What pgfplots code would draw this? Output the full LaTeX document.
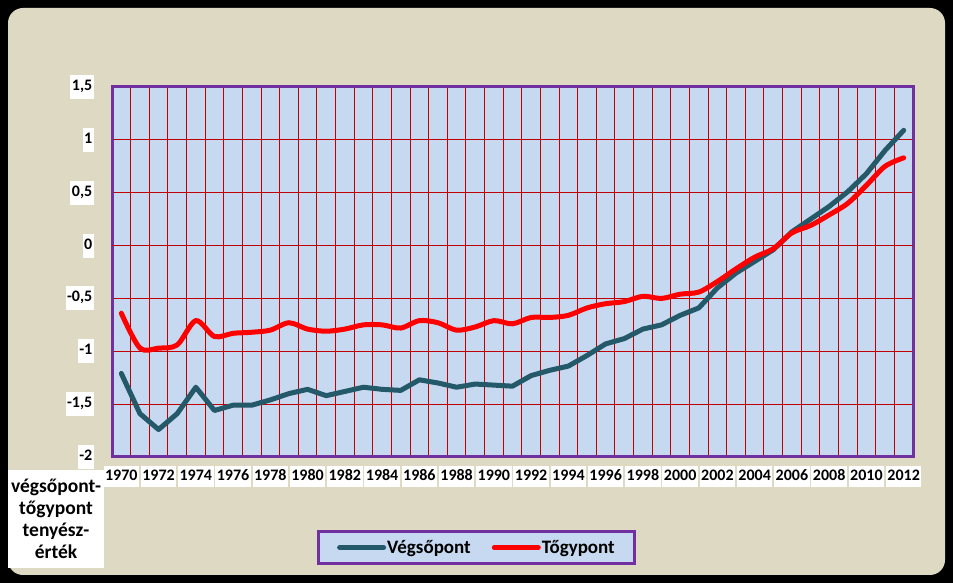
\documentclass[border=0pt]{standalone}
\usepackage{fontspec}
\setmainfont{Carlito}
\usepackage{pgfplots}
\pgfplotsset{compat=1.18}
\definecolor{beige}{RGB}{221,217,195}
\definecolor{plotbg}{RGB}{198,217,241}
\definecolor{framec}{RGB}{112,48,160}
\definecolor{gridred}{RGB}{192,0,0}
\definecolor{vegcol}{RGB}{35,89,104}
\begin{document}
\begin{tikzpicture}[font=\fontsize{16}{19}\selectfont\bfseries]
\fill[black] (0pt,0pt) rectangle (953pt,583pt);
\fill[beige, rounded corners=15pt] (8pt,8pt) rectangle (945pt,575pt);
\node[fill=white, text width=92pt, align=center, inner sep=2pt, minimum height=98pt,
      font=\fontsize{19.5}{22}\selectfont\bfseries] at (56pt,64pt) {végsőpont-\\tőgypont\\tenyész-\\érték};
\begin{axis}[
  at={(112pt,126pt)}, anchor=south west,
  scale only axis, width=801pt, height=370pt,
  xmin=1969.5, xmax=2012.5, ymin=-2, ymax=1.5,
  axis background/.style={fill=plotbg},
  axis line style={draw=framec, line width=3pt},
  xtick={1970,1972,...,2012},
  xticklabels={1970,1972,1974,1976,1978,1980,1982,1984,1986,1988,1990,1992,1994,1996,1998,2000,2002,2004,2006,2008,2010,2012},
  minor xtick={1970.5,1971.5,...,2011.5},
  xminorgrids, minor x grid style={gridred, line width=0.9pt},
  ytick={-2,-1.5,-1,-0.5,0.5,1,1.5},
  yticklabels={-2,{-1,5},-1,{-0,5},{0,5},1,{1,5}},
  ymajorgrids, major y grid style={gridred, line width=0.9pt},
  extra y ticks={0}, extra y tick labels={0},
  extra y tick style={major grid style={gray, line width=0.9pt}},
  major tick length=0pt, minor tick length=0pt,
  tick label style={font=\fontsize{16}{19}\selectfont\bfseries},
  xticklabel style={fill=white, inner xsep=1.5pt, text height=11pt, text depth=3pt, inner ysep=3.5pt, anchor=north, yshift=-9pt},
  yticklabel style={fill=white, inner xsep=1.5pt, text height=11pt, text depth=4pt, inner ysep=4.5pt, anchor=east, xshift=-18pt},
  legend style={at={(0.455,-0.2446)}, anchor=center, draw=framec, line width=3pt, fill=plotbg,
     font=\fontsize{19}{22}\selectfont\bfseries, inner xsep=19pt, inner ysep=7pt,
     /tikz/every even column/.append style={column sep=20pt},
     nodes={inner xsep=1pt}},
  legend columns=2,
  legend image code/.code={\draw[#1] (0pt,0pt) -- (44pt,0pt);},
]
\addplot[vegcol, line width=5pt, line join=round, line cap=round] coordinates {
(1970,-1.21) (1971,-1.59) (1972,-1.74) (1973,-1.59) (1974,-1.34) (1975,-1.56)
(1976,-1.51) (1977,-1.51) (1978,-1.46) (1979,-1.40) (1980,-1.36) (1981,-1.42)
(1982,-1.38) (1983,-1.34) (1984,-1.36) (1985,-1.37) (1986,-1.27) (1987,-1.30)
(1988,-1.34) (1989,-1.31) (1990,-1.32) (1991,-1.33) (1992,-1.23) (1993,-1.18)
(1994,-1.14) (1995,-1.04) (1996,-0.93) (1997,-0.88) (1998,-0.79) (1999,-0.75)
(2000,-0.66) (2001,-0.59) (2002,-0.40) (2003,-0.26) (2004,-0.15) (2005,-0.04)
(2006,0.13) (2007,0.25) (2008,0.37) (2009,0.51) (2010,0.68) (2011,0.90) (2012,1.09)};
\addlegendentry{Végsőpont}
\addplot[red, line width=5pt, smooth, line cap=round] coordinates {
(1970,-0.64) (1971,-0.97) (1972,-0.97) (1973,-0.94) (1974,-0.71) (1975,-0.86)
(1976,-0.83) (1977,-0.82) (1978,-0.80) (1979,-0.73) (1980,-0.79) (1981,-0.81)
(1982,-0.79) (1983,-0.75) (1984,-0.75) (1985,-0.78) (1986,-0.71) (1987,-0.73)
(1988,-0.80) (1989,-0.77) (1990,-0.71) (1991,-0.74) (1992,-0.68) (1993,-0.68)
(1994,-0.66) (1995,-0.59) (1996,-0.55) (1997,-0.53) (1998,-0.48) (1999,-0.50)
(2000,-0.46) (2001,-0.44) (2002,-0.34) (2003,-0.22) (2004,-0.11) (2005,-0.03)
(2006,0.12) (2007,0.19) (2008,0.29) (2009,0.40) (2010,0.57) (2011,0.75) (2012,0.83)};
\addlegendentry{Tőgypont}
\end{axis}
\pgfresetboundingbox
\useasboundingbox (0pt,0pt) rectangle (953pt,583pt);
\end{tikzpicture}
\end{document}
